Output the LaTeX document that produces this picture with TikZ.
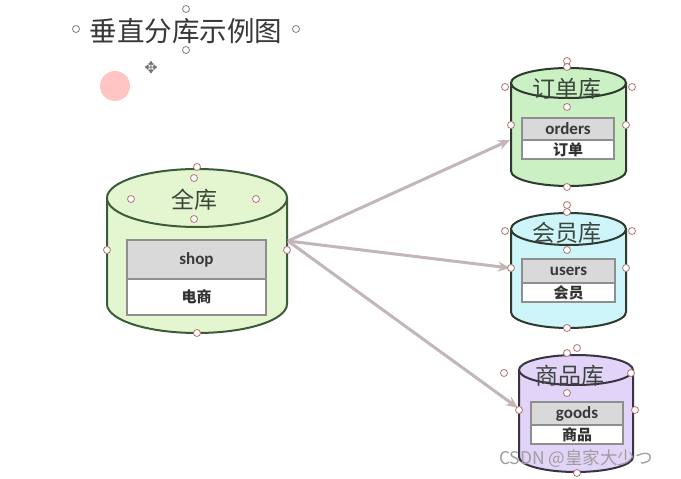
\documentclass[tikz,border=0pt]{standalone}
\usepackage{fontspec}
\setmainfont{Carlito}
\newfontfamily\cjk{Noto Sans CJK SC}
\newfontfamily\dvs{DejaVu Sans}
\usetikzlibrary{arrows.meta}
\definecolor{strokeA}{HTML}{3B5B3B}
\definecolor{strokeB}{HTML}{2E3A2E}
\definecolor{strokeC}{HTML}{3A3442}
\definecolor{fillAll}{HTML}{E4F6CF}
\definecolor{fillOrd}{HTML}{CBF0C3}
\definecolor{fillUsr}{HTML}{CDF5FA}
\definecolor{fillGds}{HTML}{E2D4F8}
\definecolor{hdrgray}{HTML}{D9D9D9}
\definecolor{boxline}{HTML}{8E8E8E}
\definecolor{arrowc}{HTML}{C2B6BA}
\definecolor{handlec}{HTML}{B07676}
\definecolor{txtc}{HTML}{3C463C}
\tikzset{
  cylline/.style={line width=2pt},
  hdr/.style={draw=boxline, line width=1.6pt, fill=hdrgray},
  body/.style={draw=boxline, line width=1.6pt, fill=white},
  lbl/.style={font=\bfseries\fontsize{17}{17}\selectfont, text=black!78, inner sep=0pt},
  cjklbl/.style={font=\cjk\bfseries\fontsize{15}{15}\selectfont, text=black!80, inner sep=0pt},
  cyltitle/.style={font=\cjk\fontsize{23}{23}\selectfont, text=txtc, inner sep=0pt},
  link/.style={draw=arrowc, line width=3pt, -{Stealth[length=12pt,width=10pt]}},
  handle/.style={draw=handlec, fill=white, line width=0.8pt, circle, minimum size=7pt, inner sep=0pt},
}
\begin{document}
\begin{tikzpicture}[x=1pt,y=1pt]
\useasboundingbox[fill=white] (0,0) rectangle (681,-479);

% title
\node[font=\cjk\fontsize{27.5}{27.5}\selectfont, text=black!78, inner sep=0pt] (title) at (186,-31) {垂直分库示例图};
\fill[fill=pink!75!red!60!white, fill opacity=0.85] (115,-86) circle[radius=15];
\node[font=\dvs\fontsize{16}{16}\selectfont, text=black!55, inner sep=0pt] (move) at (151,-68) {✥};

% ---- main cylinder ----
\fill[fillAll] (107,-198) -- (107,-304) arc[start angle=180,end angle=360,x radius=90,y radius=29] -- (287,-198) -- cycle;
\draw[cylline, draw=strokeA] (107,-198) -- (107,-304) arc[start angle=180,end angle=360,x radius=90,y radius=29] -- (287,-198);
\draw[cylline, draw=strokeA, fill=fillAll] (197,-198) ellipse[x radius=90,y radius=29];
\node[cyltitle] (allt) at (194,-200) {全库};
\draw[hdr] (127,-240) rectangle (266,-279);
\draw[body] (127,-279) rectangle (266,-315);
\node[lbl] (shop) at (196.5,-259.5) {shop};
\node[cjklbl] (shopc) at (196.5,-297) {电商};
\coordinate (allE) at (288,-241);

% ---- orders cylinder ----
\fill[fillOrd] (511,-83) -- (511,-171) arc[start angle=180,end angle=360,x radius=57.5,y radius=15] -- (626,-83) -- cycle;
\draw[cylline, draw=strokeB] (511,-83) -- (511,-171) arc[start angle=180,end angle=360,x radius=57.5,y radius=15] -- (626,-83);
\draw[cylline, draw=strokeB, fill=fillOrd] (568.5,-83) ellipse[x radius=57.5,y radius=15];
\node[cyltitle] (ordt) at (567,-89) {订单库};
\draw[hdr] (522,-118) rectangle (614,-140);
\draw[body] (522,-140) rectangle (614,-159);
\node[lbl] (ord) at (568,-128.5) {orders};
\node[cjklbl] (ordc) at (568,-149.5) {订单};
\coordinate (ordW) at (510,-140);

% ---- users cylinder ----
\fill[fillUsr] (511,-229) -- (511,-312) arc[start angle=180,end angle=360,x radius=57.5,y radius=16] -- (626,-229) -- cycle;
\draw[cylline, draw=strokeB] (511,-229) -- (511,-312) arc[start angle=180,end angle=360,x radius=57.5,y radius=16] -- (626,-229);
\draw[cylline, draw=strokeB, fill=fillUsr] (568.5,-229) ellipse[x radius=57.5,y radius=16];
\node[cyltitle] (usrt) at (567,-233) {会员库};
\draw[hdr] (522,-259) rectangle (615,-283);
\draw[body] (522,-283) rectangle (615,-302);
\node[lbl] (usr) at (568.5,-271) {users};
\node[cjklbl] (usrc) at (568.5,-293) {会员};
\coordinate (usrW) at (510,-268);

% ---- goods cylinder ----
\fill[fillGds] (519,-370) -- (519,-457) arc[start angle=180,end angle=360,x radius=57,y radius=15] -- (633,-370) -- cycle;
\draw[cylline, draw=strokeC] (519,-370) -- (519,-457) arc[start angle=180,end angle=360,x radius=57,y radius=15] -- (633,-370);
\draw[cylline, draw=strokeC, fill=fillGds] (576,-370) ellipse[x radius=57,y radius=15];
\node[cyltitle] (gdst) at (570,-376) {商品库};
\draw[hdr] (531,-402) rectangle (623,-425);
\draw[body] (531,-425) rectangle (623,-444);
\node[lbl] (gds) at (577,-413.5) {goods};
\node[cjklbl] (gdsc) at (577,-435) {商品};
\coordinate (gdsW) at (518,-408);

% ---- connectors ----
\draw[link] (allE) -- (ordW);
\draw[link] (allE) -- (usrW);
\draw[link] (allE) -- (gdsW);

% ---- watermark ----
\node[font=\cjk\fontsize{17.5}{17.5}\selectfont, text=black!38, inner sep=0pt, anchor=west] (wm) at (499,-459) {CSDN @皇家大少つ};

% ---- selection handles ----
\foreach \p in {(76,-29),(296,-29),(186,-9),(186,-50)}
  \node[handle, draw=black!50] at \p {};
\foreach \p in {(197,-167),(194,-178),(131,-199),(256,-199),(194,-219),(107,-250),(287,-250),(197,-333),
  (567,-61),(567,-67),(505,-87),(632,-87),(567,-107),(511,-125),(626,-125),(567,-187),
  (567,-205),(567,-212),(505,-231),(632,-231),(567,-250),(511,-268),(626,-268),(567,-328),
  (577,-348),(567,-353),(504,-373),(631,-373),(567,-393),(519,-410),(635,-410),(577,-473)}
  \node[handle] at \p {};
\end{tikzpicture}
\end{document}
